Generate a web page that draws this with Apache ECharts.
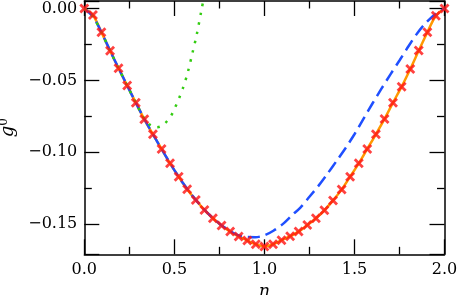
<!DOCTYPE html>
<html>
<head>
<meta charset="utf-8">
<script src="https://cdn.jsdelivr.net/npm/echarts@6/dist/echarts.min.js"></script>
<style>html,body{margin:0;padding:0;background:#fff;}#c{width:457px;height:295px;}</style>
</head>
<body>
<div id="c"></div>
<script>
// x tick labels
const xTicks = [0.0, 0.5, 1.0, 1.5, 2.0];
const yTicks = [0.00, -0.05, -0.10, -0.15];

// red crosses (numerical data) and orange solid curve
const markN = [0, 0.048, 0.095, 0.143, 0.190, 0.238, 0.286, 0.333, 0.381, 0.429, 0.476,
  0.524, 0.571, 0.619, 0.667, 0.714, 0.762, 0.810, 0.857, 0.905, 0.952, 1.0,
  1.048, 1.095, 1.143, 1.190, 1.238, 1.286, 1.333, 1.381, 1.429, 1.476, 1.524,
  1.571, 1.619, 1.667, 1.714, 1.762, 1.810, 1.857, 1.905, 1.952, 2.0];
const markG = [0, -0.0045, -0.0165, -0.0294, -0.0416, -0.0536, -0.0655, -0.0771, -0.0875, -0.0977, -0.1077,
  -0.1170, -0.1257, -0.1332, -0.1401, -0.1459, -0.1509, -0.1552, -0.1586, -0.1614, -0.1640, -0.1655,
  -0.1640, -0.1612, -0.1584, -0.1552, -0.1507, -0.1459, -0.1404, -0.1335, -0.1260, -0.1170, -0.1077,
  -0.0977, -0.0875, -0.0768, -0.0655, -0.0544, -0.0421, -0.0293, -0.0165, -0.0050, 0];

// blue dashed curve
const blueN = [0, 0.05, 0.1, 0.15, 0.2, 0.25, 0.3, 0.35, 0.4, 0.45, 0.5, 0.55, 0.6, 0.65, 0.7, 0.75, 0.8,
  0.85, 0.9, 0.95, 1.0, 1.05, 1.1, 1.15, 1.2, 1.25, 1.3, 1.35, 1.4, 1.45, 1.5, 1.55, 1.6, 1.65,
  1.7, 1.75, 1.8, 1.85, 1.9, 1.95, 2.0];
const blueG = [0, -0.0060, -0.0178, -0.0312, -0.0440, -0.0566, -0.0690, -0.0807, -0.0916, -0.1022, -0.1124,
  -0.1218, -0.1302, -0.1377, -0.1442, -0.1497, -0.1541, -0.1575, -0.1589, -0.1591, -0.1578, -0.1546,
  -0.1502, -0.1442, -0.1385, -0.1310, -0.1234, -0.1150, -0.1062, -0.0972, -0.0875, -0.0768, -0.0661,
  -0.0558, -0.0458, -0.0362, -0.0263, -0.0170, -0.0095, -0.0038, 0];

// green dotted curve
const greenN = [0, 0.05, 0.1, 0.15, 0.2, 0.25, 0.3, 0.33, 0.36, 0.39, 0.42, 0.45, 0.48, 0.5,
  0.525, 0.55, 0.575, 0.6, 0.625, 0.65, 0.675];
const greenG = [0, -0.0060, -0.0178, -0.0312, -0.0440, -0.0566, -0.0690, -0.0760, -0.0805, -0.0826,
  -0.0822, -0.0796, -0.0750, -0.0700, -0.0629, -0.0546, -0.0442, -0.0313, -0.0177, -0.0015, 0.0150];

const zip = (a, b) => a.map((v, i) => [v, b[i]]);
const FONT = 'DejaVu Serif';
const X_MIN = 0, X_MAX = 2, Y_MIN = -0.171, Y_MAX = 0.0052;

const fmtY = v => {
  const s = Math.abs(v).toFixed(2);
  return (v < -1e-9 ? '\u2212' : '') + s;
};
const fmtX = v => v.toFixed(1);

function xAx(pos, labels) {
  return {
    type: 'value', position: pos, min: X_MIN, max: X_MAX, interval: 0.5,
    axisLine: { show: true, onZero: false, lineStyle: { color: '#000', width: 1.5 } },
    axisTick: { show: true, inside: true, length: 15, lineStyle: { color: '#000', width: 1.3 } },
    minorTick: { show: true, splitNumber: 2, length: 7.5, lineStyle: { color: '#000', width: 1.3 } },
    splitLine: { show: false },
    axisLabel: { show: labels, margin: 8, color: '#000', fontFamily: FONT, fontSize: 16,
      formatter: v => xTicks.some(t => Math.abs(t - v) < 1e-9) ? fmtX(v) : '' },
    name: labels ? '{i|n}' : '', nameLocation: 'middle', nameGap: 19,
    nameTextStyle: { rich: { i: { fontFamily: FONT, fontStyle: 'italic', fontSize: 17, color: '#000' } } }
  };
}
function yAx(pos, labels) {
  return {
    type: 'value', position: pos, min: Y_MIN, max: Y_MAX, splitNumber: 4,
    axisLine: { show: true, onZero: false, lineStyle: { color: '#000', width: 1.5 } },
    axisTick: { show: true, inside: true, length: 15, lineStyle: { color: '#000', width: 1.3 } },
    minorTick: { show: true, splitNumber: 2, length: 7.5, lineStyle: { color: '#000', width: 1.3 } },
    splitLine: { show: false },
    axisLabel: { show: labels, margin: 7, color: '#000', fontFamily: FONT, fontSize: 16,
      showMinLabel: false, showMaxLabel: false,
      formatter: v => yTicks.some(t => Math.abs(t - v) < 1e-9) ? fmtY(v) : '' },
    name: labels ? '{g|g}{s|0}' : '', nameLocation: 'middle', nameGap: 59, nameRotate: 90,
    nameTextStyle: { rich: {
      g: { fontFamily: FONT, fontStyle: 'italic', fontSize: 18, color: '#000', lineHeight: 20 },
      s: { fontFamily: FONT, fontSize: 12, color: '#000', verticalAlign: 'top', lineHeight: 10 }
    } }
  };
}

const chart = echarts.init(document.getElementById('c'), null, { renderer: 'canvas', width: 457, height: 295 });
const cross = 'path://M0,2 L2,0 L5,3 L8,0 L10,2 L7,5 L10,8 L8,10 L5,7 L2,10 L0,8 L3,5 Z';

chart.setOption({
  animation: false,
  backgroundColor: '#fff',
  grid: { left: 84.3, top: 1, right: 12.5, bottom: 40.7, containLabel: false, outerBoundsMode: 'none' },
  xAxis: [xAx('bottom', true), xAx('top', false)],
  yAxis: [yAx('left', true), yAx('right', false)],
  series: [
    { type: 'line', data: zip(markN, markG), showSymbol: false, smooth: 0.3,
      lineStyle: { color: '#ff9900', width: 2.5 }, z: 2 },
    { type: 'line', data: zip(blueN, blueG), showSymbol: false, smooth: 0.3,
      lineStyle: { color: '#1f4fff', width: 2.5, type: [12, 6] }, z: 3 },
    { type: 'line', data: zip(greenN, greenG), showSymbol: false, smooth: 0.3,
      lineStyle: { color: '#33cc11', width: 2.5, type: [2.5, 7] }, z: 4 },
    { type: 'scatter', data: zip(markN, markG), symbol: cross, symbolSize: 10, clip: false,
      itemStyle: { color: '#ff1111' }, z: 5 }
  ]
});
</script>
</body>
</html>
